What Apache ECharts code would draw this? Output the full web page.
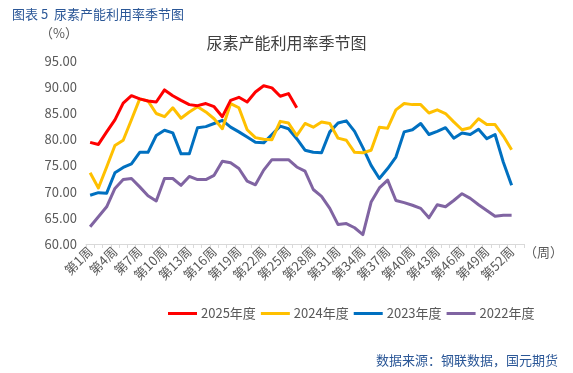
<!DOCTYPE html>
<html><head><meta charset="utf-8">
<script src="https://cdn.jsdelivr.net/npm/echarts@6/dist/echarts.min.js"></script>
<style>html,body{margin:0;padding:0;background:#fff}#c{width:573px;height:373px}</style>
</head><body><div id="c"></div>
<script>
const weeks = Array.from({length:53},(_,i)=>'第'+(i+1)+'周');
const s2025 = [79.4,79.0,81.4,83.7,86.9,88.3,87.7,87.3,87.1,89.4,88.3,87.4,86.6,86.4,86.8,86.2,84.3,87.4,88.0,87.1,89.0,90.2,89.8,88.2,88.7,86.0];
const s2024 = [73.6,70.7,74.7,78.8,79.8,83.7,87.7,87.3,84.9,84.3,86.0,84.0,85.2,86.2,85.2,83.9,82.0,86.8,86.0,81.8,80.3,80.0,79.9,83.4,83.1,80.7,83.0,82.3,83.3,83.0,80.2,79.8,77.5,77.4,77.9,82.3,82.1,85.6,86.8,86.6,86.6,85.0,85.6,84.9,83.3,81.8,82.2,83.9,82.8,82.8,80.6,78.0];
const s2023 = [69.3,69.8,69.7,73.6,74.6,75.3,77.5,77.5,80.7,81.7,81.2,77.2,77.2,82.2,82.4,83.0,83.6,82.3,81.4,80.4,79.4,79.3,80.9,82.5,82.0,80.1,77.9,77.5,77.4,81.4,83.1,83.5,81.5,78.4,75.0,72.5,74.4,76.6,81.4,81.8,83.0,80.9,81.5,82.2,80.2,81.2,80.9,81.9,80.1,80.9,75.6,71.2];
const s2022 = [63.3,65.2,67.1,70.6,72.3,72.5,70.9,69.2,68.2,72.5,72.5,71.2,72.9,72.3,72.3,73.1,75.8,75.5,74.4,72.0,71.3,74.1,76.1,76.1,76.1,74.7,73.9,70.4,69.1,66.8,63.7,63.9,63.1,61.8,68.0,70.7,72.2,68.3,67.9,67.4,66.8,65.0,67.5,67.1,68.3,69.6,68.7,67.5,66.4,65.3,65.5,65.5];
const seriesNames = ['2025年度','2024年度','2023年度','2022年度'];
const colors = ['#FF0000','#FFC000','#0070C0','#8064A2'];
const ff = '"Noto Sans CJK SC", "Noto Sans", sans-serif';
const blue = '#2B5797';
const chart = echarts.init(document.getElementById('c'));
const datasets = [s2025,s2024,s2023,s2022];
chart.setOption({
  animation:false,
  textStyle:{fontFamily:ff},
  title:[
    {text:'尿素产能利用率季节图',left:'center',top:30,textStyle:{fontSize:16,fontWeight:'normal',color:'#404040',fontFamily:ff}},
    {text:'图表 5  尿素产能利用率季节图',left:7,top:3,textStyle:{fontSize:13,fontWeight:'normal',color:blue,fontFamily:ff}},
    {text:'数据来源：钢联数据，国元期货',right:10,top:349,textStyle:{fontSize:13,fontWeight:'normal',color:blue,fontFamily:ff}}
  ],
  legend:{left:163,top:302,itemWidth:29,itemHeight:3,itemGap:5,icon:'rect',
    textStyle:{fontSize:13,color:'#595959',fontFamily:ff,padding:[0,0,0,-1]},
    data:seriesNames},
  grid:{left:86,right:49,top:60.6,bottom:129,containLabel:false},
  xAxis:{type:'category',data:weeks,boundaryGap:true,
    name:'（周）',nameLocation:'end',nameGap:0,
    nameTextStyle:{fontSize:13,color:'#595959',verticalAlign:'top',padding:[2,0,0,0]},
    axisLine:{lineStyle:{color:'#D9D9D9'}},
    axisTick:{show:true,interval:0,alignWithLabel:false,length:4,lineStyle:{color:'#D9D9D9'}},
    axisLabel:{interval:2,rotate:45,fontSize:13,color:'#595959',margin:5,fontFamily:ff}},
  yAxis:{type:'value',min:60,max:95,interval:5,
    name:'（%）',nameLocation:'end',nameGap:21,
    nameTextStyle:{fontSize:13,color:'#595959',align:'right',padding:[0,8,0,0]},
    axisLine:{show:false},axisTick:{show:false},splitLine:{show:false},
    axisLabel:{fontSize:13,color:'#595959',margin:9,formatter:v=>v.toFixed(2),fontFamily:ff}},
  series:seriesNames.map((n,i)=>({name:n,type:'line',data:datasets[i],showSymbol:false,symbol:'none',
    lineStyle:{width:3,color:colors[i],join:'round'},itemStyle:{color:colors[i]},z:10-i}))
});
</script></body></html>
